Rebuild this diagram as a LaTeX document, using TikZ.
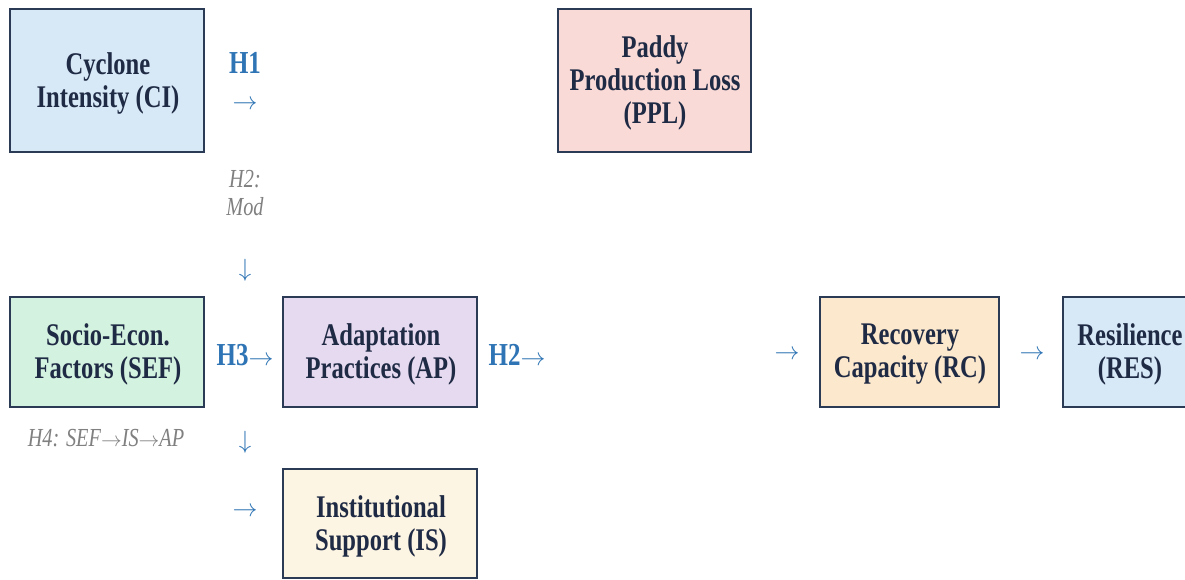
\documentclass[tikz,border=0pt]{standalone}
\usepackage{fontspec}
\setmainfont{Liberation Serif}[FakeStretch=0.78]
\newcommand{\rarr}{\ensuremath{\rightarrow}}
\newcommand{\darr}{\ensuremath{\downarrow}}
\definecolor{bordc}{HTML}{2B3A55}
\definecolor{txtc}{HTML}{1F2A44}
\definecolor{hblue}{HTML}{2F75B5}
\definecolor{hgrey}{HTML}{808080}
\definecolor{fci}{HTML}{D7E8F7}
\definecolor{fppl}{HTML}{F9DAD7}
\definecolor{fsef}{HTML}{D4F2E0}
\definecolor{fap}{HTML}{E6DAF0}
\definecolor{fis}{HTML}{FDF5E3}
\definecolor{frc}{HTML}{FCE8CC}
\begin{document}
\begin{tikzpicture}[x=1pt,y=-1pt,
  boxnode/.style={draw=bordc,line width=1.8pt,text=txtc,align=center,inner sep=0pt,
    font=\bfseries\fontsize{31}{33}\selectfont},
  boxtext/.style={text=txtc,align=center,inner sep=0pt,font=\bfseries\fontsize{31.5}{33}\selectfont},
  hlabel/.style={text=hblue,inner sep=0pt,anchor=base,font=\bfseries\fontsize{32}{34}\selectfont},
  arrowtxt/.style={text=hblue,inner sep=0pt,font=\fontsize{29}{32}\selectfont},
  modlabel/.style={text=hgrey,inner sep=0pt,align=center,font=\itshape\fontsize{26}{28}\selectfont}]
\useasboundingbox (0,0) rectangle (1185,579);
\fill[white] (0,0) rectangle (1185,579);
% boxes
\node[boxnode,fill=fci,minimum width=194pt,minimum height=143pt] (ci) at (107,80.5) {};
\node[boxtext] (cit) at (108,83) {Cyclone\\Intensity (CI)};
\node[boxnode,fill=fppl,minimum width=193pt,minimum height=143pt] (ppl) at (654.5,80.5) {};
\node[boxtext] (pplt) at (655,83) {Paddy\\Production Loss\\(PPL)};
\node[boxnode,fill=fsef,minimum width=194pt,minimum height=110pt] (sef) at (107,352) {};
\node[boxtext] (seft) at (108,354) {Socio-Econ.\\Factors (SEF)};
\node[boxnode,fill=fap,minimum width=194pt,minimum height=110pt] (ap) at (380,352) {};
\node[boxtext] (apt) at (381,354) {Adaptation\\Practices (AP)};
\node[boxnode,fill=fis,minimum width=194pt,minimum height=109pt] (is) at (380,523.5) {};
\node[boxtext] (ist) at (381,526) {Institutional\\Support (IS)};
\node[boxnode,fill=frc,minimum width=179pt,minimum height=110pt] (rc) at (909.5,352) {};
\node[boxtext] (rct) at (910,354) {Recovery\\Capacity (RC)};
\node[boxnode,fill=fci,minimum width=140pt,minimum height=110pt] (res) at (1133,352) {};
\node[boxtext] (rest) at (1130,354) {Resilience\\(RES)};
% labels
\node[hlabel] (h1) at (245,73) {H1};
\node[arrowtxt] (a1) at (245,105) {\rarr};
\node[modlabel] (h2mod) at (245,193) {H2:\\Mod};
\node[arrowtxt] (a2) at (245,270) {\darr};
\node[hlabel] (h3) at (245,365) {H3{\mdseries\fontsize{29}{32}\selectfont\rarr}};
\node[hlabel] (h2) at (517,365) {H2{\mdseries\fontsize{29}{32}\selectfont\rarr}};
\node[arrowtxt] (a3) at (787,355) {\rarr};
\node[arrowtxt] (a4) at (1032,355) {\rarr};
\node[modlabel,anchor=base] (h4) at (106,446) {H4: SEF{\fontsize{22}{24}\selectfont\rarr}IS{\fontsize{22}{24}\selectfont\rarr}AP};
\node[arrowtxt] (a5) at (245,442) {\darr};
\node[arrowtxt] (a6) at (245,512) {\rarr};
\end{tikzpicture}
\end{document}
